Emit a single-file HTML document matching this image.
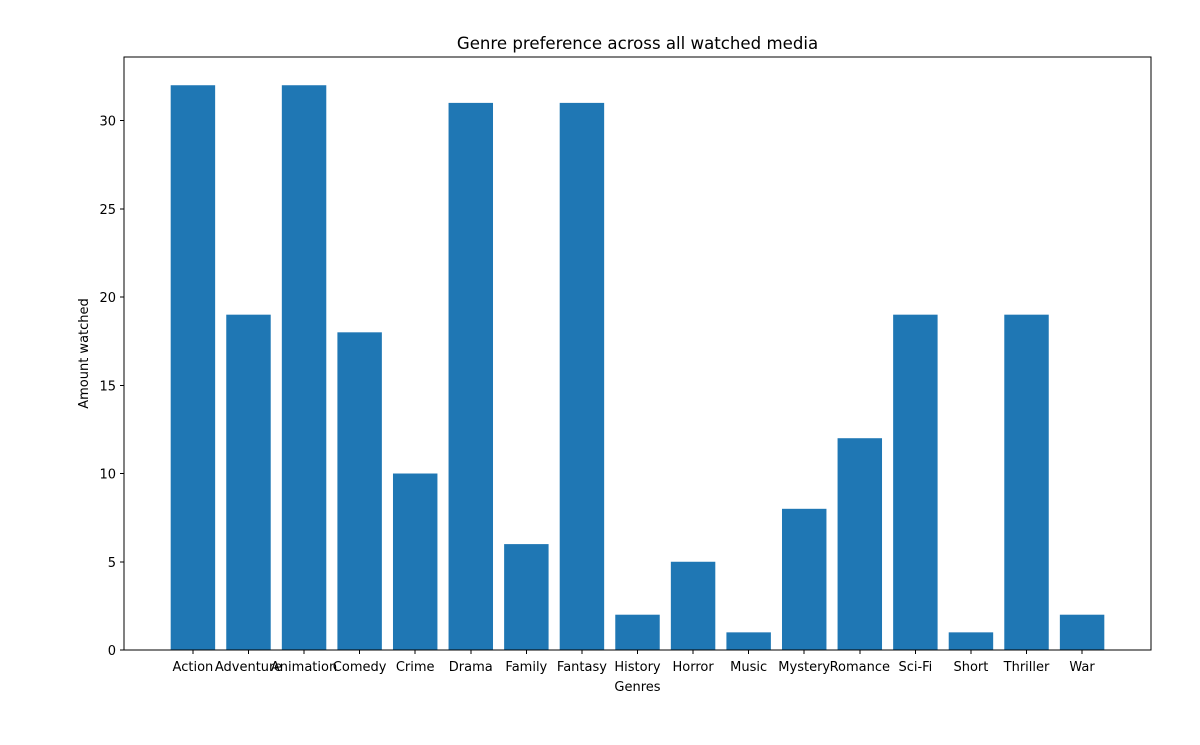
<!DOCTYPE html>
<html><head><meta charset="utf-8"><style>
body{margin:0;background:#fff;font-family:"Liberation Sans","DejaVu Sans",sans-serif;}
svg text{font-family:"DejaVu Sans","Liberation Sans",sans-serif;}
</style></head><body>
<svg id="chart" width="1200" height="740"></svg>
<script>
const categories=["Action","Adventure","Animation","Comedy","Crime","Drama","Family","Fantasy","History","Horror","Music","Mystery","Romance","Sci-Fi","Short","Thriller","War"];
const values=[32,19,32,18,10,31,6,31,2,5,1,8,12,19,1,19,2];
const yTicks=[0,5,10,15,20,25,30];
const L=124,R=1151,T=57,B=650;
const xMin=-1.24,xMax=categories.length-1+1.24;
const yMax=Math.max(...values)*1.05;
const sx=v=>L+(v-xMin)/(xMax-xMin)*(R-L);
const sy=v=>B-v/yMax*(B-T);
const svg=document.getElementById('chart');
const NS='http://www.w3.org/2000/svg';
function mk(tag,attrs,parent){const e=document.createElementNS(NS,tag);for(const k in attrs)e.setAttribute(k,attrs[k]);(parent||svg).appendChild(e);return e;}
categories.forEach((c,i)=>{
  const b=mk('rect',{x:sx(i-0.4),y:sy(values[i]),width:sx(i+0.4)-sx(i-0.4),height:B-sy(values[i]),fill:'#1f77b4'});
  
  
  const t=mk('line',{x1:sx(i),x2:sx(i),y1:B,y2:B+4,stroke:'#000','stroke-width':1,'shape-rendering':'crispEdges'});
  
  
  const l=mk('text',{x:sx(i),y:B+21,'text-anchor':'middle','font-size':13});
  l.textContent=c;
  
  
});
yTicks.forEach(v=>{
  const t=mk('line',{x1:L-4,x2:L,y1:sy(v),y2:sy(v),stroke:'#000','stroke-width':1,'shape-rendering':'crispEdges'});
  
  
  const l=mk('text',{x:L-8,y:sy(v)+5,'text-anchor':'end','font-size':13});
  l.textContent=v;
  
  
});
const f=mk('rect',{x:L,y:T,width:R-L,height:B-T,fill:'none',stroke:'#000','stroke-width':1,'shape-rendering':'crispEdges'});


const ti=mk('text',{x:(L+R)/2,y:49,'text-anchor':'middle','font-size':16.6});
ti.textContent='Genre preference across all watched media';


const xt=mk('text',{x:(L+R)/2,y:691,'text-anchor':'middle','font-size':13});
xt.textContent='Genres';


const yt=mk('text',{x:88,y:(T+B)/2,'text-anchor':'middle','font-size':13,transform:'rotate(-90 88 '+((T+B)/2)+')'});
yt.textContent='Amount watched';


</script>
</body></html>
